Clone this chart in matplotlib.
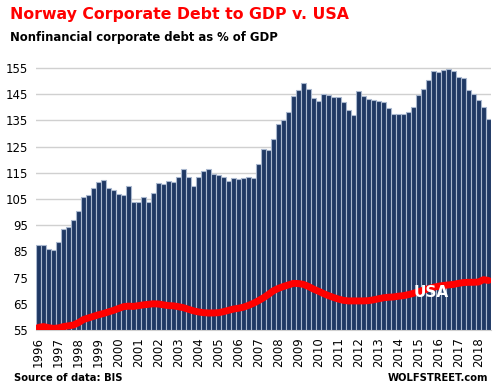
import numpy as np
import matplotlib
matplotlib.use("Agg")
import matplotlib.pyplot as plt

# quarterly data, 1996 Q1 - 2018 Q3
years = list(range(1996, 2019))

norway = [87.3, 87.3, 86.0, 85.7, 88.5, 93.4, 94.2, 96.9, 100.3, 105.6,
          106.4, 109.1, 111.4, 112.1, 109.1, 108.3, 106.8, 106.4, 109.8, 103.7,
          104.0, 105.9, 104.0, 107.4, 111.2, 110.8, 112.0, 111.5, 113.5, 116.6,
          113.5, 110.1, 113.5, 115.8, 116.3, 114.5, 114.0, 113.5, 112.0, 112.9,
          112.6, 112.9, 113.5, 112.9, 118.5, 124.0, 123.5, 127.7, 133.5, 135.0,
          138.1, 144.2, 146.5, 149.2, 146.9, 143.4, 142.3, 145.0, 144.6, 143.8,
          143.8, 141.9, 138.9, 136.9, 146.1, 144.2, 143.1, 142.7, 142.3, 141.9,
          139.6, 137.3, 137.3, 137.3, 138.1, 140.0, 144.6, 146.9, 150.3, 153.7,
          153.3, 154.1, 154.5, 153.7, 151.5, 151.1, 146.5, 145.0, 142.7, 140.0,
          135.4]

usa = [56.0, 56.3, 55.9, 55.6, 55.8, 56.3, 56.6, 56.9, 57.8, 59.0,
       59.6, 60.2, 60.8, 61.3, 61.9, 62.5, 63.2, 63.9, 64.1, 64.0,
       64.3, 64.6, 64.8, 65.0, 64.9, 64.6, 64.3, 64.2, 63.9, 63.5,
       62.9, 62.3, 61.9, 61.6, 61.5, 61.5, 61.6, 62.0, 62.5, 63.0,
       63.3, 63.7, 64.4, 65.2, 66.2, 67.3, 68.6, 70.0, 70.9, 71.6,
       72.2, 72.8, 72.7, 72.4, 71.6, 70.6, 69.8, 68.9, 68.1, 67.4,
       66.8, 66.3, 66.1, 66.1, 66.1, 66.1, 66.2, 66.5, 66.9, 67.3,
       67.5, 67.6, 67.9, 68.1, 68.5, 69.0, 69.6, 70.2, 70.8, 71.3,
       71.7, 72.0, 72.2, 72.4, 72.8, 73.1, 73.2, 73.2, 73.3, 74.2,
       73.9]

x = np.arange(len(norway))

fig = plt.figure(figsize=(4.95, 3.92), dpi=100)
ax = fig.add_axes([36 / 495, 1 - 330 / 392, 455 / 495, 270 / 392])

ax.bar(x, norway, width=1.0, bottom=0, color="#1f3864",
       edgecolor="#aab8cf", linewidth=0.8, zorder=2)
ax.plot(x, usa, color="#ff0000", linewidth=5, solid_capstyle="round",
        solid_joinstyle="round", zorder=3)

ax.text(78.6, 69.3, "USA", color="white", fontsize=11, fontweight="bold",
        ha="center", va="center", zorder=4)

ax.set_ylim(55, 158)
ax.set_xlim(-0.5, len(norway) - 0.5)
ax.set_yticks(range(55, 156, 10))
ax.set_xticks(x[::4])
ax.set_xticklabels([str(y) for y in years], rotation=90)
ax.tick_params(length=0, labelsize=8.5, colors="black")
ax.tick_params(axis="y", pad=6)
ax.tick_params(axis="x", pad=5)
ax.grid(axis="y", color="#d0d0d0", linewidth=1, zorder=0)
for s in ["top", "right", "left"]:
    ax.spines[s].set_visible(False)
ax.spines["bottom"].set_color("#d0d0d0")

fig.text(10 / 495, 1 - 15 / 392, "Norway Corporate Debt to GDP v. USA",
         color="#ff0000", fontsize=11.3, fontweight="bold", va="center")
fig.text(10 / 495, 1 - 37 / 392, "Nonfinancial corporate debt as % of GDP",
         color="black", fontsize=8.4, fontweight="bold", va="center")
fig.text(14 / 495, 1 - 378 / 392, "Source of data: BIS",
         color="black", fontsize=7.2, fontweight="bold", va="center")
fig.text(488 / 495, 1 - 378 / 392, "WOLFSTREET.com",
         color="black", fontsize=7.2, fontweight="bold", va="center", ha="right")

fig.savefig("out.png", dpi=100)
